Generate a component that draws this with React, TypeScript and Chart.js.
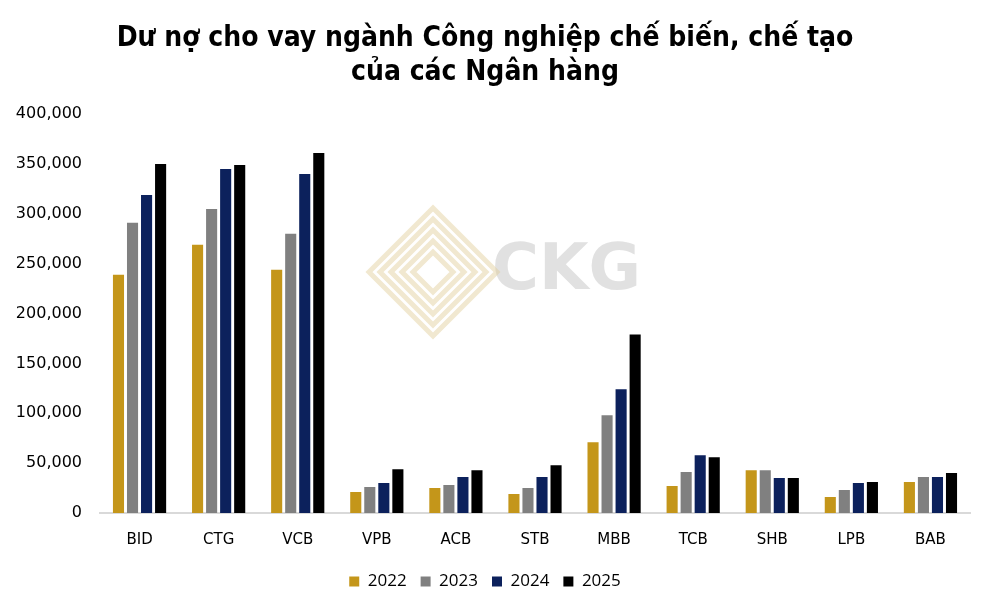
import React, { useEffect, useRef } from "react";
import { Chart, registerables } from "chart.js";
Chart.register(...registerables);

const categories = ["BID", "CTG", "VCB", "VPB", "ACB", "STB", "MBB", "TCB", "SHB", "LPB", "BAB"];
const years = ["2022", "2023", "2024", "2025"];
const v2022 = [239000, 269000, 244000, 21000, 25000, 19000, 71000, 27000, 43000, 16000, 31000];
const v2023 = [291000, 305000, 280000, 26000, 28000, 25000, 98000, 41000, 43000, 23000, 36000];
const v2024 = [319000, 345000, 340000, 30000, 36000, 36000, 124000, 58000, 35000, 30000, 36000];
const v2025 = [350000, 349000, 361000, 44000, 43000, 48000, 179000, 56000, 35000, 31000, 40000];
const colors = ["#C4961A", "#808080", "#0C215C", "#000000"];

const watermark = {
  id: "watermark",
  beforeDatasetsDraw(chart: any) {
    const ctx = chart.ctx;
    ctx.save();
    ctx.fillStyle = "rgba(200,200,200,0.55)";
    ctx.font = "bold 64px 'DejaVu Sans'";
    ctx.textBaseline = "middle";
    ctx.fillText("CKG", 492, 272);
    ctx.strokeStyle = "rgba(225,205,150,0.45)";
    ctx.lineWidth = 5;
    for (let i = 0; i < 5; i++) {
      const r = 20 + i * 11;
      ctx.beginPath();
      ctx.moveTo(433 - r, 272);
      ctx.lineTo(433, 272 - r);
      ctx.lineTo(433 + r, 272);
      ctx.lineTo(433, 272 + r);
      ctx.closePath();
      ctx.stroke();
    }
    ctx.restore();
  },
};

export default function App() {
  const ref = useRef<HTMLCanvasElement>(null);
  useEffect(() => {
    document.body.style.margin = "0";
    const seriesVals = [v2022, v2023, v2024, v2025];
    const chart = new Chart(ref.current!, {
      type: "bar",
      data: {
        labels: categories,
        datasets: years.map((y, i) => ({
          label: y,
          data: seriesVals[i],
          backgroundColor: colors[i],
          categoryPercentage: 0.71,
          barPercentage: 0.79,
        })),
      },
      options: {
        animation: false,
        responsive: false,
        maintainAspectRatio: false,
        layout: { padding: { left: 0, right: 22, top: 22, bottom: 9 } },
        plugins: {
          title: {
            display: true,
            text: ["Dư nợ cho vay ngành Công nghiệp chế biến, chế tạo", "của các Ngân hàng"],
            color: "#000",
            font: { family: "'DejaVu Sans Condensed', 'DejaVu Sans'", size: 28, weight: "bold" },
            lineHeight: 1.18,
            padding: { top: 0, bottom: 25 },
          },
          legend: {
            position: "bottom",
            labels: {
              color: "#000",
              font: { family: "'Open Sans'", size: 17 },
              boxWidth: 10,
              boxHeight: 10,
              padding: 14,
            },
          },
          tooltip: { enabled: false },
        },
        scales: {
          x: {
            grid: { display: false },
            border: { display: true, color: "#D9D9D9", width: 2 },
            ticks: { color: "#000", font: { family: "'DejaVu Sans'", size: 15 }, padding: 10 },
          },
          y: {
            min: 0,
            max: 400000,
            afterFit: (s: any) => { s.width = 100; },
            grid: { display: false, drawTicks: false },
            border: { display: false },
            ticks: {
              stepSize: 50000,
              color: "#000",
              padding: 18,
              font: { family: "'DejaVu Sans'", size: 16 },
              callback: (v: any) => Number(v).toLocaleString("en-US"),
            },
          },
        },
      },
      plugins: [watermark],
    });
    return () => chart.destroy();
  }, []);
  return (
    <div style={{ width: 992, height: 609, background: "#fff" }}>
      <canvas ref={ref} width={992} height={609} />
    </div>
  );
}
